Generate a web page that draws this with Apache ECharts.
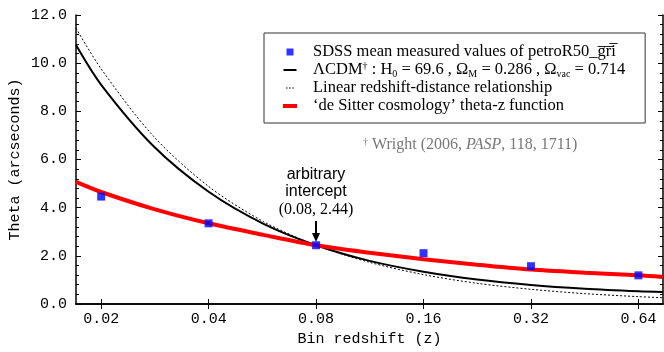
<!DOCTYPE html>
<html>
<head>
<meta charset="utf-8">
<script src="https://cdn.jsdelivr.net/npm/echarts@6/dist/echarts.min.js"></script>
<style>
  html, body { margin: 0; padding: 0; background: #fff; }
  #main { width: 664px; height: 352px; }
</style>
</head>
<body>
<div id="main"></div>
<script>
// bins and measured values
const zBins = [0.02, 0.04, 0.08, 0.16, 0.32, 0.64];
const sdssTheta = [4.46, 3.35, 2.44, 2.11, 1.57, 1.19];

// model curves
const zCurve = [0.017, 0.02, 0.028, 0.04, 0.057, 0.08, 0.113, 0.16, 0.226, 0.32, 0.453, 0.64, 0.75];
const lcdmTheta = [10.75, 9.10, 6.56, 4.66, 3.33, 2.44, 1.79, 1.34, 1.015, 0.79, 0.635, 0.53, 0.50];
const linearTheta = [11.45, 9.76, 6.97, 4.88, 3.42, 2.44, 1.73, 1.22, 0.86, 0.61, 0.43, 0.305, 0.26];
const deSitterTheta = [5.07, 4.65, 3.95, 3.35, 2.87, 2.44, 2.13, 1.86, 1.63, 1.43, 1.30, 1.19, 1.12];

const xTicks = [0.02, 0.04, 0.08, 0.16, 0.32, 0.64];

const serif = 'Liberation Serif';
const mono = 'Liberation Mono';

const pairs = (xs, ys) => xs.map((x, i) => [x, ys[i]]);

const legendText = {
  sdss: 'SDSS mean measured values of petroR50_g\u0305r\u0305i\u0305',
  lcdm: '\u039BCDM{sup|\u2020} : H{sub|0} = 69.6 , \u03A9{sub|M} = 0.286 , \u03A9{sub|vac} = 0.714',
  linear: 'Linear redshift-distance relationship',
  desitter: '\u2018de Sitter cosmology\u2019 theta-z function'
};

// legend icons, drawn inside a 14x8 box (the leading moves keep the box size)
const legendIcons = {
  sdss: 'path://M0,0M14,8M3.5,0.5h7v7h-7z',
  lcdm: 'path://M0,0M14,8M0.5,3h13v2h-13z',
  linear: 'path://M0,0M14,8M3,3.5h1.5v1h-1.5zM6.2,3.5h1.5v1h-1.5zM9.4,3.5h1.5v1h-1.5z',
  desitter: 'path://M0,0M14,8M0,2h14v4h-14z'
};

const xAxisBase = {
  type: 'log',
  logBase: 2,
  min: 0.017,
  max: 0.75,
  splitLine: { show: false },
  axisLine: { show: true, lineStyle: { color: '#000', width: 1.5 } },
  axisTick: { show: true, inside: true, length: 5, customValues: xTicks, lineStyle: { color: '#000' } }
};
const yAxisBase = {
  type: 'value',
  min: 0,
  max: 12,
  interval: 2,
  splitLine: { show: false },
  axisLine: { show: true, lineStyle: { color: '#000', width: 1.5 } },
  axisTick: { show: true, inside: true, length: 5, lineStyle: { color: '#000' } },
  minorTick: { show: true, splitNumber: 5, length: 3, lineStyle: { color: '#000' } }
};

const chart = echarts.init(document.getElementById('main'));
chart.setOption({
  animation: false,
  grid: { left: 76, right: 1, top: 15, bottom: 48, outerBoundsMode: 'none' },
  xAxis: [
    Object.assign({}, xAxisBase, {
      position: 'bottom',
      name: 'Bin redshift (z)',
      nameLocation: 'middle',
      nameGap: 28,
      nameTextStyle: { fontFamily: mono, fontSize: 15, color: '#000' },
      axisLabel: {
        customValues: xTicks,
        margin: 8,
        fontFamily: mono, fontSize: 15, color: '#000',
        formatter: v => Number(v).toFixed(2)
      }
    }),
    Object.assign({}, xAxisBase, { position: 'top', axisLabel: { show: false } })
  ],
  yAxis: [
    Object.assign({}, yAxisBase, {
      position: 'left',
      name: 'Theta (arcseconds)',
      nameLocation: 'middle',
      nameGap: 53,
      nameMoveOverlap: false,
      nameTextStyle: { fontFamily: mono, fontSize: 15, color: '#000' },
      axisLabel: { margin: 9, fontFamily: mono, fontSize: 15, color: '#000', formatter: v => v.toFixed(1) }
    }),
    Object.assign({}, yAxisBase, { position: 'right', axisLabel: { show: false } })
  ],
  legend: {
    orient: 'vertical',
    left: 264,
    top: 33,
    padding: [10, 20, 8, 19],
    itemGap: 0,
    itemWidth: 14,
    itemHeight: 8,
    borderColor: '#333',
    borderWidth: 1,
    data: ['sdss', 'lcdm', 'linear', 'desitter'].map(k => ({ name: k, icon: legendIcons[k] })),
    formatter: name => legendText[name],
    textStyle: {
      fontFamily: serif, fontSize: 16.5, color: '#000', lineHeight: 18,
      padding: [0, 0, 0, 11],
      rich: {
        sub: { fontFamily: serif, fontSize: 10, lineHeight: 10, verticalAlign: 'bottom', color: '#000' },
        sup: { fontFamily: serif, fontSize: 10, lineHeight: 10, verticalAlign: 'top', color: '#000' }
      }
    }
  },
  graphic: [
    {
      type: 'text', left: 363, top: 137,
      style: {
        text: '{d|\u2020} Wright (2006, {i|PASP}, 118, 1711)',
        fontFamily: serif, fontSize: 16, fill: '#777',
        rich: {
          d: { fontFamily: serif, fontSize: 10, lineHeight: 10, verticalAlign: 'top', fill: '#777' },
          i: { fontFamily: serif, fontSize: 16, fontStyle: 'italic', fill: '#777' }
        }
      }
    },
    {
      type: 'text', x: 316, y: 166,
      style: {
        text: 'arbitrary\nintercept', align: 'center',
        fontFamily: 'Liberation Sans', fontSize: 16, lineHeight: 17, fill: '#000'
      }
    },
    {
      type: 'text', x: 316, y: 202,
      style: { text: '(0.08, 2.44)', align: 'center', fontFamily: serif, fontSize: 16, fill: '#000' }
    },
    {
      type: 'line', shape: { x1: 316, y1: 221, x2: 316, y2: 236 },
      style: { stroke: '#000', lineWidth: 2 }
    },
    {
      type: 'polygon', shape: { points: [[312, 233], [320, 233], [316, 242]] },
      style: { fill: '#000' }
    }
  ],
  series: [
    {
      name: 'lcdm', type: 'line', data: pairs(zCurve, lcdmTheta),
      smooth: 0.3, symbol: 'none', z: 3,
      lineStyle: { color: '#000', width: 2 }, itemStyle: { color: '#000' }
    },
    {
      name: 'linear', type: 'line', data: pairs(zCurve, linearTheta),
      smooth: 0.3, symbol: 'none', z: 2,
      lineStyle: { color: '#000', width: 1, type: [2, 2] }, itemStyle: { color: '#000' }
    },
    {
      name: 'desitter', type: 'line', data: pairs(zCurve, deSitterTheta),
      smooth: 0.3, symbol: 'none', z: 4,
      lineStyle: { color: '#ff0000', width: 4 }, itemStyle: { color: '#ff0000' }
    },
    {
      name: 'sdss', type: 'scatter', data: pairs(zBins, sdssTheta),
      symbol: 'rect', symbolSize: 8, z: 5,
      itemStyle: { color: '#0000ff' }
    }
  ]
});
</script>
</body>
</html>
